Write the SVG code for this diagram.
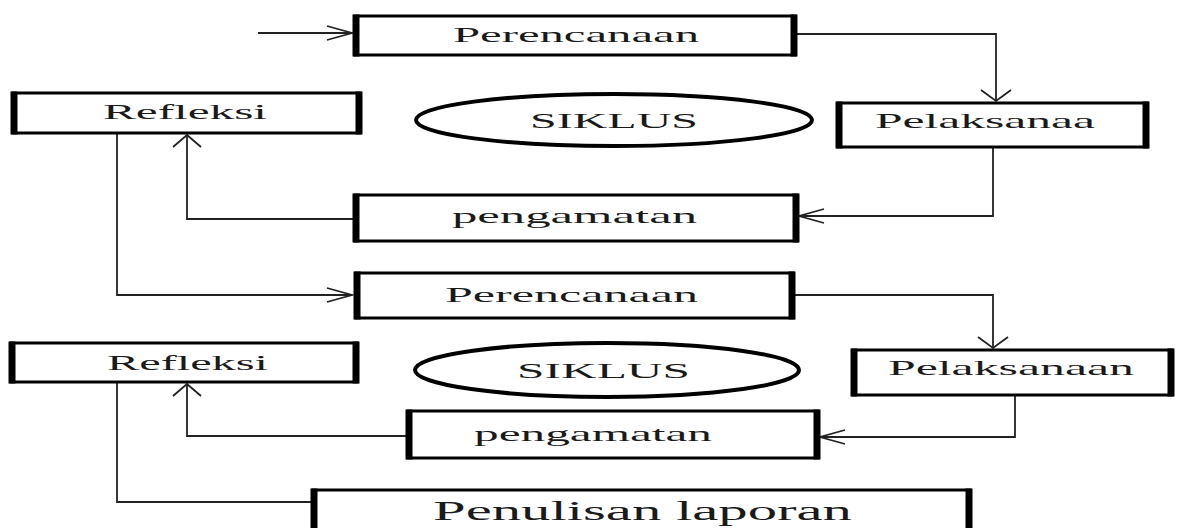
<svg xmlns="http://www.w3.org/2000/svg" width="1178" height="528" viewBox="0 0 1178 528">
<style>
.box{fill:#fff;stroke:#000;stroke-width:3}
.side{stroke:#000;stroke-width:7}
.lbl{font-family:"Liberation Serif","Times New Roman",serif;font-size:21px;fill:#1a1a1a}
.big{font-size:27px}
.ell{fill:#fff;stroke:#000;stroke-width:4}
.con{fill:none;stroke:#222;stroke-width:1.8}
.head{fill:none;stroke:#222;stroke-width:1.8}
</style>
<rect width="1178" height="528" fill="#fff"/>
<g id="connectors">
  <polyline class="con" points="258,33 352,33"/>
  <polyline class="head" points="327,26 352,33 327,40"/>
  <polyline class="con" points="796,34 996,34 996,101"/>
  <polyline class="head" points="981,90 996,101 1011,90"/>
  <polyline class="con" points="993,147 993,216 799,216"/>
  <polyline class="head" points="824,209 799,216 824,223"/>
  <polyline class="con" points="355,219 187,219 187,135"/>
  <polyline class="head" points="173,147 187,135 201,147"/>
  <polyline class="con" points="117,133 117,295 352,295"/>
  <polyline class="head" points="327,288 352,295 327,302"/>
  <polyline class="con" points="793,295 993,295 993,348"/>
  <polyline class="head" points="978,337 993,348 1008,337"/>
  <polyline class="con" points="1015,395 1015,437 820,437"/>
  <polyline class="head" points="845,430 820,437 845,444"/>
  <polyline class="con" points="408,436 187,436 187,384"/>
  <polyline class="head" points="173,396 187,384 201,396"/>
  <polyline class="con" points="117,382 117,502 312,502"/>
</g>
<g id="perencanaan1">
  <rect class="box" x="355" y="16" width="440" height="39"/>
  <line class="side" x1="356" y1="14.5" x2="356" y2="56.5"/><line class="side" x1="794" y1="14.5" x2="794" y2="56.5"/>
  <text class="lbl" x="453" y="42" textLength="246" lengthAdjust="spacingAndGlyphs">Perencanaan</text>
</g>
<g id="pelaksanaa1">
  <rect class="box" x="838" y="103" width="309" height="44"/>
  <line class="side" x1="839" y1="101.5" x2="839" y2="148.5"/><line class="side" x1="1146" y1="101.5" x2="1146" y2="148.5"/>
  <text class="lbl" x="875" y="128" textLength="220" lengthAdjust="spacingAndGlyphs">Pelaksanaa</text>
</g>
<g id="refleksi1">
  <rect class="box" x="13" y="93" width="347" height="40"/>
  <line class="side" x1="14" y1="91.5" x2="14" y2="134.5"/><line class="side" x1="359" y1="91.5" x2="359" y2="134.5"/>
  <text class="lbl" x="103" y="119" textLength="164" lengthAdjust="spacingAndGlyphs">Refleksi</text>
</g>
<g id="siklus1">
  <ellipse class="ell" cx="614" cy="120" rx="198" ry="26"/>
  <text class="lbl" x="530" y="128" textLength="168" lengthAdjust="spacingAndGlyphs">SIKLUS</text>
</g>
<g id="pengamatan1">
  <rect class="box" x="355" y="195" width="442" height="46"/>
  <line class="side" x1="356" y1="193.5" x2="356" y2="242.5"/><line class="side" x1="796" y1="193.5" x2="796" y2="242.5"/>
  <text class="lbl" x="452" y="223" textLength="245" lengthAdjust="spacingAndGlyphs">pengamatan</text>
</g>
<g id="perencanaan2">
  <rect class="box" x="356" y="273" width="437" height="45"/>
  <line class="side" x1="357" y1="271.5" x2="357" y2="319.5"/><line class="side" x1="792" y1="271.5" x2="792" y2="319.5"/>
  <text class="lbl" x="445" y="302" textLength="253" lengthAdjust="spacingAndGlyphs">Perencanaan</text>
</g>
<g id="pelaksanaan2">
  <rect class="box" x="853" y="350" width="319" height="45"/>
  <line class="side" x1="854" y1="348.5" x2="854" y2="396.5"/><line class="side" x1="1171" y1="348.5" x2="1171" y2="396.5"/>
  <text class="lbl" x="888" y="375" textLength="246" lengthAdjust="spacingAndGlyphs">Pelaksanaan</text>
</g>
<g id="refleksi2">
  <rect class="box" x="11" y="343" width="346" height="39"/>
  <line class="side" x1="12" y1="341.5" x2="12" y2="383.5"/><line class="side" x1="356" y1="341.5" x2="356" y2="383.5"/>
  <text class="lbl" x="107" y="370" textLength="161" lengthAdjust="spacingAndGlyphs">Refleksi</text>
</g>
<g id="siklus2">
  <ellipse class="ell" cx="607" cy="370" rx="192" ry="27"/>
  <text class="lbl" x="517" y="378" textLength="173" lengthAdjust="spacingAndGlyphs">SIKLUS</text>
</g>
<g id="pengamatan2">
  <rect class="box" x="408" y="411" width="410" height="47"/>
  <line class="side" x1="409" y1="409.5" x2="409" y2="459.5"/><line class="side" x1="817" y1="409.5" x2="817" y2="459.5"/>
  <text class="lbl" x="474" y="441" textLength="238" lengthAdjust="spacingAndGlyphs">pengamatan</text>
</g>
<g id="penulisan">
  <rect class="box" x="313" y="490" width="657" height="50"/>
  <line class="side" x1="314" y1="488.5" x2="314" y2="540"/><line class="side" x1="969" y1="488.5" x2="969" y2="540"/>
  <text class="lbl big" x="433" y="520" textLength="419" lengthAdjust="spacingAndGlyphs">Penulisan laporan</text>
</g>
</svg>
